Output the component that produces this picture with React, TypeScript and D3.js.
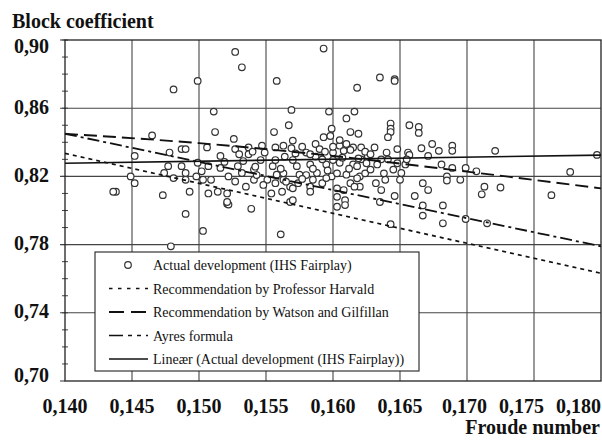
import React from "react";
import * as d3 from "d3";

// Froude number (x) and block coefficient (y) of ships from IHS Fairplay
const fairplayShips: [number, number][] = [
  [0.1527, 0.893], [0.1532, 0.884], [0.1499, 0.876], [0.1481, 0.871], [0.1558, 0.876],
  [0.1511, 0.858], [0.1569, 0.859], [0.1593, 0.895], [0.1635, 0.878], [0.1646, 0.877],
  [0.1646, 0.876], [0.1618, 0.872], [0.1597, 0.858], [0.1616, 0.858], [0.161, 0.854],
  [0.1465, 0.844], [0.1512, 0.846], [0.1526, 0.842], [0.1452, 0.832], [0.1449, 0.82],
  [0.1452, 0.816], [0.1438, 0.811], [0.1436, 0.811], [0.1473, 0.809], [0.1493, 0.811],
  [0.1478, 0.834], [0.1487, 0.836], [0.149, 0.836], [0.1477, 0.826], [0.1487, 0.826],
  [0.1474, 0.822], [0.1481, 0.819], [0.149, 0.822], [0.149, 0.818], [0.1499, 0.828],
  [0.1498, 0.82], [0.149, 0.798], [0.1479, 0.779], [0.1503, 0.788], [0.1521, 0.804],
  [0.1522, 0.8035], [0.1539, 0.801], [0.1561, 0.786], [0.1568, 0.805],
  [0.1506, 0.837], [0.1516, 0.832], [0.1527, 0.836], [0.1537, 0.837], [0.1537, 0.833],
  [0.1549, 0.834], [0.1557, 0.837], [0.1563, 0.838], [0.157, 0.841], [0.1556, 0.846],
  [0.1567, 0.85], [0.1502, 0.823], [0.1507, 0.826], [0.1503, 0.818], [0.1509, 0.818],
  [0.1507, 0.81], [0.1514, 0.811], [0.1521, 0.81], [0.1521, 0.805], [0.1522, 0.82],
  [0.1527, 0.817], [0.1529, 0.826], [0.1533, 0.829], [0.1541, 0.824], [0.1541, 0.818],
  [0.1555, 0.826], [0.1558, 0.821], [0.1557, 0.816], [0.1563, 0.818], [0.1554, 0.81],
  [0.1562, 0.811], [0.1568, 0.814], [0.1516, 0.825], [0.1532, 0.822],
  [0.1599, 0.848], [0.1613, 0.846], [0.1587, 0.839], [0.1593, 0.843], [0.1605, 0.838],
  [0.161, 0.839], [0.1615, 0.837], [0.158, 0.834], [0.159, 0.836], [0.16, 0.834],
  [0.1608, 0.835], [0.1573, 0.826], [0.1583, 0.827], [0.1595, 0.827], [0.1605, 0.828],
  [0.1615, 0.827], [0.1575, 0.821], [0.1588, 0.822], [0.1599, 0.82], [0.161, 0.821],
  [0.157, 0.813], [0.1583, 0.814], [0.1592, 0.816], [0.1603, 0.813], [0.1613, 0.816],
  [0.157, 0.806], [0.1603, 0.808], [0.1609, 0.806],
  [0.1643, 0.851], [0.1643, 0.848], [0.1643, 0.846], [0.1641, 0.843], [0.1657, 0.85],
  [0.1664, 0.849], [0.1664, 0.8455], [0.1619, 0.845], [0.1621, 0.837], [0.1631, 0.837],
  [0.164, 0.834], [0.1648, 0.836], [0.1656, 0.834], [0.1621, 0.83], [0.1626, 0.832],
  [0.1633, 0.827], [0.1641, 0.83], [0.1654, 0.827], [0.1651, 0.822], [0.165, 0.818],
  [0.162, 0.82], [0.162, 0.814], [0.1639, 0.818], [0.1636, 0.812], [0.1635, 0.805],
  [0.1646, 0.8085], [0.1661, 0.8085], [0.1643, 0.792],
  [0.1674, 0.839], [0.1679, 0.835], [0.1689, 0.838], [0.1689, 0.835], [0.1666, 0.8365],
  [0.1671, 0.832], [0.1681, 0.827], [0.1689, 0.825], [0.1699, 0.825], [0.1707, 0.823],
  [0.1721, 0.835], [0.1685, 0.82], [0.1685, 0.8176], [0.1695, 0.818], [0.1713, 0.814],
  [0.1711, 0.8095], [0.1725, 0.8135], [0.1667, 0.816], [0.1671, 0.812], [0.1667, 0.803],
  [0.1667, 0.797], [0.1682, 0.803], [0.1682, 0.7925], [0.1699, 0.795], [0.1715, 0.7925],
  [0.1797, 0.8326], [0.1777, 0.8226], [0.1763, 0.809], [0.1657, 0.8326],
  [0.1598, 0.8437], [0.1605, 0.8413], [0.154, 0.8345], [0.1569, 0.8365], [0.1577, 0.8374],
  [0.1594, 0.8345], [0.16, 0.8374], [0.1613, 0.8355], [0.1624, 0.8345],
  [0.1542, 0.8257], [0.1557, 0.8296], [0.1564, 0.8316], [0.157, 0.8296], [0.1587, 0.8316],
  [0.16, 0.8296], [0.1619, 0.8306], [0.1625, 0.8277], [0.1648, 0.8277],
  [0.1543, 0.8208], [0.1563, 0.8218], [0.158, 0.8208], [0.1603, 0.8218], [0.1618, 0.8189],
  [0.1624, 0.8218], [0.1638, 0.8218], [0.1565, 0.8169], [0.1574, 0.816], [0.1583, 0.811],
  [0.1608, 0.812], [0.1616, 0.814], [0.1603, 0.8022], [0.1609, 0.8032],
  [0.1546, 0.8296], [0.1551, 0.818], [0.1585, 0.8245], [0.1596, 0.8235], [0.1612, 0.8245],
  [0.1628, 0.824], [0.1632, 0.816], [0.1595, 0.819], [0.1577, 0.8185], [0.1592, 0.83],
  [0.1607, 0.831], [0.1628, 0.833], [0.1636, 0.83], [0.1561, 0.8245], [0.1548, 0.815],
  [0.1583, 0.833], [0.1572, 0.8335], [0.1618, 0.826], [0.1585, 0.818], [0.1655, 0.83],
  [0.1645, 0.824], [0.153, 0.833], [0.1519, 0.8285], [0.1535, 0.814], [0.1547, 0.838],
];

// Design recommendations and trend line (Froude number, block coefficient)
const harvaldFn = [0.14, 0.18];
const harvaldCb = [0.8335, 0.7632];
const watsonFn = [0.14, 0.15, 0.16, 0.17, 0.18];
const watsonCb = [0.845, 0.8395, 0.832, 0.8228, 0.813];
const ayresFn = [0.14, 0.18];
const ayresCb = [0.845, 0.779];
const trendFn = [0.14, 0.18];
const trendCb = [0.8277, 0.8325];

const xTicks = [0.14, 0.145, 0.15, 0.155, 0.16, 0.165, 0.17, 0.175, 0.18];
const yTicks = [0.7, 0.74, 0.78, 0.82, 0.86, 0.9];
const yMinorTicks = d3.range(0.71, 0.9, 0.01);

const legendLabels = [
  "Actual development (IHS Fairplay)",
  "Recommendation by Professor Harvald",
  "Recommendation by Watson and Gilfillan",
  "Ayres formula",
  "Lineær (Actual development (IHS Fairplay))",
];

const fmt = (v: number, digits: number) => v.toFixed(digits).replace(".", ",");

const FONT = "'Liberation Serif', 'Times New Roman', serif";
const INK = "#222";
const GRID = "#444";

function textWidth(text: string, font: string): number {
  const c = document.createElement("canvas").getContext("2d");
  if (!c) return text.length * 10;
  c.font = font;
  return c.measureText(text).width;
}

export default function App() {
  const left = 65;
  const right = 601;
  const top = 40;
  const bottom = 381;

  const x = d3.scaleLinear().domain([0.14, 0.18]).range([left, right]);
  const y = d3.scaleLinear().domain([0.7, 0.9]).range([bottom, top]);

  const line = d3
    .line<[number, number]>()
    .x((d) => x(d[0]))
    .y((d) => y(d[1]));
  const curve = d3
    .line<[number, number]>()
    .x((d) => x(d[0]))
    .y((d) => y(d[1]))
    .curve(d3.curveMonotoneX);

  const zip = (a: number[], b: number[]) => a.map((v, i) => [v, b[i]] as [number, number]);

  const series = [
    { d: line(zip(harvaldFn, harvaldCb)), dash: "4,4", w: 1.7 },
    { d: curve(zip(watsonFn, watsonCb)), dash: "13,6", w: 1.9 },
    { d: line(zip(ayresFn, ayresCb)), dash: "12,4,3,4", w: 1.8 },
    { d: line(zip(trendFn, trendCb)), dash: "", w: 1.7 },
  ];

  // x tick labels: keep inside the right edge and pushed apart from each other
  const tickFont = `bold 20px ${FONT}`;
  const xLabels = xTicks.map((v) => ({ v, text: fmt(v, 3), w: textWidth(fmt(v, 3), tickFont) }));
  const xCenters: number[] = new Array(xLabels.length);
  let limit = right;
  for (let i = xLabels.length - 1; i >= 0; i--) {
    const L = xLabels[i];
    const r = Math.min(x(L.v) + L.w / 2, limit);
    xCenters[i] = r - L.w / 2;
    limit = r - L.w - 12;
  }

  const legendX = 95;
  const legendY = 252;
  const legendW = 324;
  const legendH = 119;
  const rowY = (i: number) => legendY + 13 + i * 23.5;
  const sampleX0 = 109;
  const sampleX1 = 148;
  const legendDash = ["", "3.5,5.5", "15,7", "14,5,4,5,4,5", ""];

  return (
    <svg
      width={602}
      height={440}
      viewBox="0 0 602 440"
      style={{ position: "absolute", left: 0, top: 0, background: "#fff" }}
    >
      <rect x={0} y={0} width={602} height={440} fill="#fff" />

      {/* grid */}
      {xTicks.slice(1, -1).map((v) => (
        <line key={`gx${v}`} x1={x(v)} x2={x(v)} y1={top} y2={bottom} stroke={GRID} strokeWidth={1.1} />
      ))}
      {yTicks.slice(1, -1).map((v) => (
        <line key={`gy${v}`} x1={left - 5} x2={right} y1={y(v)} y2={y(v)} stroke={GRID} strokeWidth={1.1} />
      ))}
      {/* y ticks */}
      {yMinorTicks.map((v) => (
        <line key={`my${v}`} x1={left - 3} x2={left + 3} y1={y(v)} y2={y(v)} stroke={GRID} strokeWidth={1} />
      ))}
      <line x1={left - 5} x2={left} y1={y(0.9)} y2={y(0.9)} stroke={GRID} strokeWidth={1.1} />
      <line x1={left - 5} x2={left} y1={y(0.7)} y2={y(0.7)} stroke={GRID} strokeWidth={1.1} />
      {/* frame */}
      <rect x={left} y={top} width={right - left} height={bottom - top} fill="none" stroke={INK} strokeWidth={1.3} />

      {/* scatter */}
      {fairplayShips.map((p, i) => (
        <circle key={i} cx={x(p[0])} cy={y(p[1])} r={3.3} fill="#fff" stroke="#333" strokeWidth={1.2} />
      ))}

      {/* lines */}
      {series.map((s, i) => (
        <path key={i} d={s.d || ""} fill="none" stroke="#111" strokeWidth={s.w} strokeDasharray={s.dash || undefined} />
      ))}

      {/* legend */}
      <rect x={legendX} y={legendY} width={legendW} height={legendH} fill="#fff" stroke={INK} strokeWidth={1.1} />
      {legendLabels.map((label, i) => (
        <g key={label}>
          {i === 0 ? (
            <circle cx={(sampleX0 + sampleX1) / 2 - 0.5} cy={rowY(i)} r={3.3} fill="#fff" stroke="#333" strokeWidth={1.2} />
          ) : (
            <line
              x1={sampleX0}
              x2={sampleX1}
              y1={rowY(i)}
              y2={rowY(i)}
              stroke="#111"
              strokeWidth={i === 2 ? 2 : 1.7}
              strokeDasharray={legendDash[i] || undefined}
            />
          )}
          <text x={153} y={rowY(i) + 5} fontFamily={FONT} fontSize={14} fill="#111">
            {label}
          </text>
        </g>
      ))}

      {/* y tick labels, kept within the plot's height */}
      {yTicks.map((v) => {
        const base = Math.max(top + 13, Math.min(y(v) + 5.6, bottom + 0.8));
        return (
          <text key={`ty${v}`} x={49} y={base} textAnchor="end" fontFamily={FONT} fontSize={20} fontWeight="bold" fill="#111">
            {fmt(v, 2)}
          </text>
        );
      })}

      {/* x tick labels */}
      {xLabels.map((L, i) => (
        <text key={`tx${L.v}`} x={xCenters[i]} y={413} textAnchor="middle" fontFamily={FONT} fontSize={20} fontWeight="bold" fill="#111">
          {L.text}
        </text>
      ))}

      {/* axis titles */}
      <text x={12} y={28} fontFamily={FONT} fontSize={20} fontWeight="bold" fill="#111">
        Block coefficient
      </text>
      <text x={600} y={434} textAnchor="end" fontFamily={FONT} fontSize={20} fontWeight="bold" fill="#111">
        Froude number
      </text>
    </svg>
  );
}
